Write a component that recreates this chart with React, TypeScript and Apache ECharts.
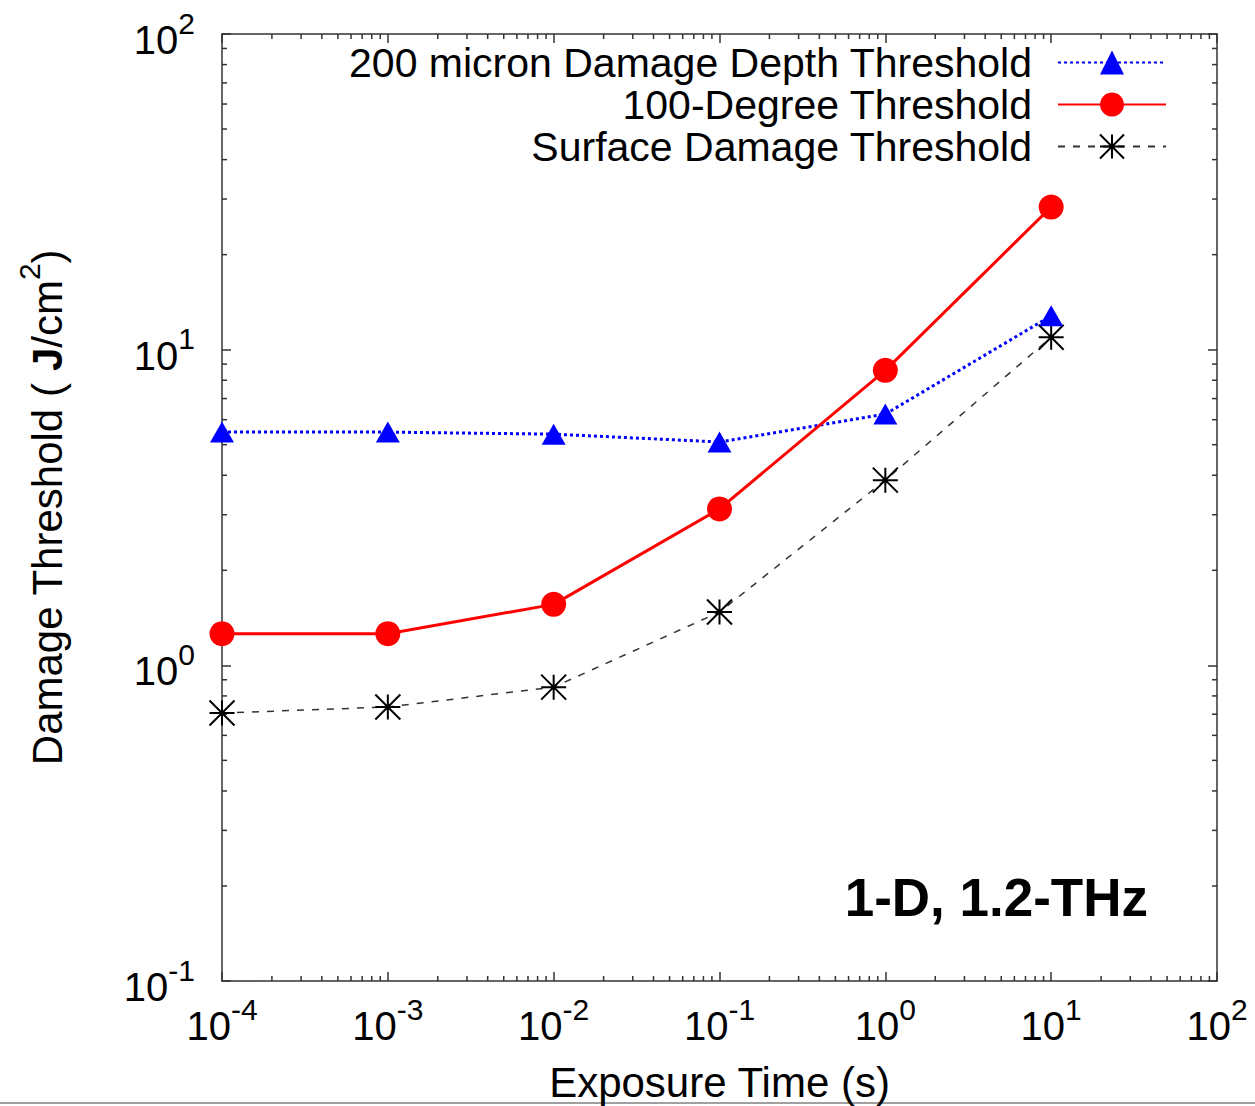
import React, { useEffect, useRef } from "react";
import * as echarts from "echarts";

const exposureTimes = [1e-4, 1e-3, 1e-2, 1e-1, 1, 10];
const depthThreshold = [5.48, 5.48, 5.4, 5.1, 6.25, 12.8];
const degreeThreshold = [1.26, 1.26, 1.56, 3.13, 8.6, 28.3];
const surfaceThreshold = [0.706, 0.738, 0.853, 1.475, 3.86, 10.95];

const seriesNames = [
  "200 micron Damage Depth Threshold",
  "100-Degree Threshold",
  "Surface Damage Threshold",
];

const xMin = 1e-4;
const xMax = 1e2;
const yMin = 0.1;
const yMax = 100;
const minorMantissas = [2, 3, 4, 5, 6, 7, 8, 9];
const xDecades = [-4, -3, -2, -1, 0, 1];
const yDecades = [-1, 0, 1];

const FONT = '"Liberation Sans", Arial, Helvetica, sans-serif';
const FRAME = "#333333";

const xMinorTicks: number[] = [];
xDecades.forEach((d) => minorMantissas.forEach((m) => xMinorTicks.push(m * Math.pow(10, d))));
const yMinorTicks: number[] = [];
yDecades.forEach((d) => minorMantissas.forEach((m) => yMinorTicks.push(m * Math.pow(10, d))));

const ASTERISK = "path://M0,0L2,2M0,2L2,0M1,0L1,2M0,1L2,1";

const powRich = {
  b: { fontSize: 40, verticalAlign: "top", padding: [12, 0, 0, 0], fontFamily: FONT, color: "#000" },
  s: { fontSize: 30, verticalAlign: "top", fontFamily: FONT, color: "#000" },
};
const powFormatter = (v: number) => `{b|10}{s|${Math.round(Math.log10(v))}}`;

export default function App() {
  const ref = useRef<HTMLDivElement>(null);
  useEffect(() => {
    document.body.style.margin = "0";
    const chart = echarts.init(ref.current!, null, { renderer: "svg" });

    const baseAxis = {
      type: "log",
      logBase: 10,
      splitLine: { show: false },
      axisLine: { show: true, lineStyle: { color: FRAME, width: 1.5 } },
      axisTick: { show: true, inside: true, length: 9, lineStyle: { color: FRAME, width: 1.5 } },
      minorTick: { show: false },
    };

    const option: any = {
      animation: false,
      backgroundColor: "#ffffff",
      grid: { left: 222, right: 38, top: 34, bottom: 125, containLabel: false, outerBoundsMode: "none" },
      xAxis: [
        {
          ...baseAxis,
          position: "bottom",
          min: xMin,
          max: xMax,
          interval: 1,
          splitNumber: 6,
          axisLabel: { margin: 13, formatter: powFormatter, rich: powRich },
          name: "Exposure Time (s)",
          nameLocation: "middle",
          nameGap: 80,
          nameTextStyle: { fontSize: 42, fontFamily: FONT, color: "#000" },
        },
        {
          ...baseAxis,
          position: "top",
          min: xMin,
          max: xMax,
          interval: 1,
          splitNumber: 6,
          axisLabel: { show: false },
        },
      ],
      yAxis: [
        {
          ...baseAxis,
          position: "left",
          min: yMin,
          max: yMax,
          interval: 1,
          splitNumber: 3,
          axisLabel: { margin: 27, formatter: powFormatter, rich: powRich },
          name: "{t|Damage Threshold ( }{j|J}{t|/cm}{s|2}{t|)}",
          nameLocation: "middle",
          nameRotate: 90,
          nameGap: 154,
          nameTextStyle: {
            fontSize: 42,
            fontFamily: FONT,
            color: "#000",
            rich: {
              t: { fontSize: 42, verticalAlign: "top", padding: [12, 0, 0, 0], fontFamily: FONT, color: "#000" },
              j: { fontSize: 42, fontWeight: "bold", verticalAlign: "top", padding: [12, 0, 0, 0], fontFamily: FONT, color: "#000" },
              s: { fontSize: 30, verticalAlign: "top", fontFamily: FONT, color: "#000" },
            },
          },
        },
        {
          ...baseAxis,
          position: "right",
          min: yMin,
          max: yMax,
          interval: 1,
          splitNumber: 3,
          axisLabel: { show: false },
        },
      ],
      legend: {
        orient: "vertical",
        align: "right",
        right: 83,
        top: 37,
        itemWidth: 108,
        itemHeight: 30,
        itemGap: 1,
        selectedMode: false,
        textStyle: { fontSize: 41, lineHeight: 41, fontFamily: FONT, color: "#000", padding: [0, 21, 0, 0] },
        data: [
          { name: seriesNames[0] },
          { name: seriesNames[1] },
          { name: seriesNames[2], itemStyle: { color: "#000", borderColor: "#000", borderWidth: 2 } },
        ],
      },
      graphic: [
        {
          type: "text",
          x: 1148,
          y: 897,
          style: {
            text: "1-D, 1.2-THz",
            fontSize: 53,
            fontWeight: "bold",
            fontFamily: FONT,
            fill: "#000",
            align: "right",
            verticalAlign: "middle",
          },
        },
        {
          type: "line",
          shape: { x1: 0, y1: 1103, x2: 1255, y2: 1103 },
          style: { stroke: "#a0a0a0", lineWidth: 2 },
        },
      ],
      series: [
        {
          name: "x-minor-ticks",
          type: "custom",
          silent: true,
          clip: false,
          xAxisIndex: 0,
          yAxisIndex: 0,
          data: xMinorTicks.map((v) => [v, 1]),
          renderItem: (_p: any, api: any) => {
            const v = api.value(0);
            const b = api.coord([v, yMin]);
            const t = api.coord([v, yMax]);
            const st = { stroke: FRAME, lineWidth: 1.5 };
            return {
              type: "group",
              children: [
                { type: "line", shape: { x1: b[0], y1: b[1], x2: b[0], y2: b[1] - 5 }, style: st },
                { type: "line", shape: { x1: t[0], y1: t[1], x2: t[0], y2: t[1] + 5 }, style: st },
              ],
            };
          },
        },
        {
          name: "y-minor-ticks",
          type: "custom",
          silent: true,
          clip: false,
          xAxisIndex: 0,
          yAxisIndex: 0,
          data: yMinorTicks.map((v) => [1, v]),
          renderItem: (_p: any, api: any) => {
            const v = api.value(1);
            const l = api.coord([xMin, v]);
            const r = api.coord([xMax, v]);
            const st = { stroke: FRAME, lineWidth: 1.5 };
            return {
              type: "group",
              children: [
                { type: "line", shape: { x1: l[0], y1: l[1], x2: l[0] + 5, y2: l[1] }, style: st },
                { type: "line", shape: { x1: r[0], y1: r[1], x2: r[0] - 5, y2: r[1] }, style: st },
              ],
            };
          },
        },
        {
          name: seriesNames[2],
          type: "line",
          data: exposureTimes.map((x, i) => [x, surfaceThreshold[i]]),
          symbol: ASTERISK,
          symbolSize: 25,
          showAllSymbol: true,
          itemStyle: { color: "#000", borderColor: "#000", borderWidth: 2 },
          lineStyle: { color: "#333", width: 1.5, type: [7, 8] },
          z: 3,
        },
        {
          name: seriesNames[0],
          type: "line",
          data: exposureTimes.map((x, i) => [x, depthThreshold[i]]),
          symbol: "triangle",
          symbolSize: [24, 21],
          showAllSymbol: true,
          itemStyle: { color: "#0000ff" },
          lineStyle: { color: "#0000ff", width: 3, type: [3, 3] },
          z: 4,
        },
        {
          name: seriesNames[1],
          type: "line",
          data: exposureTimes.map((x, i) => [x, degreeThreshold[i]]),
          symbol: "circle",
          symbolSize: 25,
          showAllSymbol: true,
          itemStyle: { color: "#ff0000" },
          lineStyle: { color: "#ff0000", width: 3 },
          z: 5,
        },
      ],
    };

    chart.setOption(option);
    return () => chart.dispose();
  }, []);
  return <div ref={ref} style={{ width: 1255, height: 1106 }} />;
}
